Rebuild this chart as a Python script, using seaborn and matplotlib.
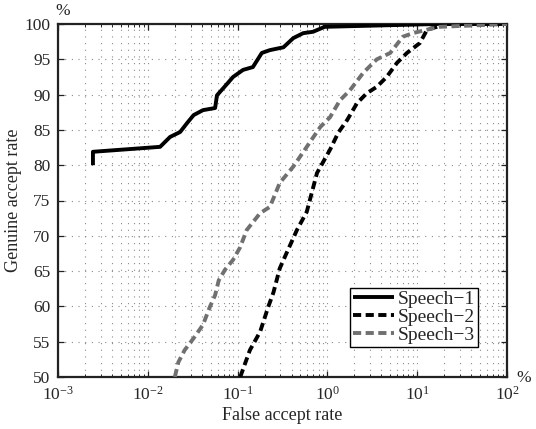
import matplotlib
matplotlib.use("Agg")
import matplotlib.pyplot as plt
import matplotlib.ticker as mticker
import numpy as np
import pandas as pd
import seaborn as sns

# ---- data ----
s1_far = [0.00245, 0.00245, 0.0137, 0.0177, 0.0229, 0.0275, 0.0324, 0.0412, 0.0562, 0.0589,
          0.0692, 0.0891, 0.115, 0.148, 0.186, 0.229, 0.324, 0.417, 0.537, 0.692, 0.933,
          1.91, 16.6, 100]
s1_gar = [80, 81.9, 82.6, 84.0, 84.7, 86.0, 87.1, 87.8, 88.1, 89.9,
          90.9, 92.5, 93.5, 93.9, 95.9, 96.3, 96.7, 98.0, 98.7, 98.9, 99.6,
          99.7, 100, 100]

s2_far = [0.107, 0.137, 0.178, 0.219, 0.251, 0.295, 0.355, 0.457, 0.589, 0.766, 1.07, 1.32,
          1.66, 2.14, 2.75, 3.55, 4.57, 5.96, 7.69, 10.7, 12.9, 16.6, 20.0, 100]
s2_gar = [50, 53.8, 56.4, 59.9, 62.0, 65.4, 67.7, 70.8, 73.4, 78.9, 82.2, 84.6,
          86.4, 88.8, 90.2, 91.1, 92.5, 94.5, 95.9, 97.3, 99.2, 99.6, 100, 100]

s3_far = [0.0200, 0.0219, 0.0257, 0.0324, 0.0412, 0.049, 0.0562, 0.0617, 0.0724, 0.0891,
          0.107, 0.126, 0.178, 0.229, 0.295, 0.417, 0.589, 0.832, 1.07, 1.38, 1.78, 2.51,
          3.55, 5.01, 6.92, 8.91, 12.9, 17.8, 100]
s3_gar = [50, 52.1, 53.8, 55.5, 57.4, 59.9, 61.6, 63.7, 65.2, 66.6,
          68.4, 70.8, 73.2, 74.1, 77.5, 79.8, 82.6, 85.4, 86.8, 89.2, 90.6, 93.1,
          95.0, 95.9, 98.2, 98.7, 99.2, 99.6, 100]

series_names = ["Speech\u22121", "Speech\u22122", "Speech\u22123"]
y_ticks = [50, 55, 60, 65, 70, 75, 80, 85, 90, 95, 100]
x_label = "False accept rate"
y_label = "Genuine accept rate"

# ---- style ----
sns.set_style("ticks")
plt.rcParams["font.family"] = ["Liberation Serif", "DejaVu Serif"]
plt.rcParams["mathtext.fontset"] = "custom"
plt.rcParams["mathtext.rm"] = "Liberation Serif"
plt.rcParams["mathtext.it"] = "Liberation Serif:italic"
plt.rcParams["mathtext.default"] = "regular"

fig = plt.figure(figsize=(5.36, 4.29), dpi=100)
ax = fig.add_axes([58 / 536, 1 - 377 / 429, 449 / 536, 353 / 429])

styles = [
    dict(color="black", dashes=None),
    dict(color="black", dashes=(2.1, 1.15)),
    dict(color="#707070", dashes=(2.1, 1.15)),
]
data = [(s1_far, s1_gar), (s2_far, s2_gar), (s3_far, s3_gar)]
for (fx, gy), name, st in zip(data, series_names, styles):
    df = pd.DataFrame({"far": fx, "gar": gy})
    sns.lineplot(data=df, x="far", y="gar", ax=ax, sort=False, estimator=None,
                 color=st["color"], linewidth=2.8, label=name, zorder=3)
    l = ax.get_lines()[-1]
    if st["dashes"] is not None:
        l.set_dashes(st["dashes"])
    l.set_solid_capstyle("butt")
    l.set_dash_capstyle("butt")

ax.set_xscale("log")
ax.set_xlim(1e-3, 1e2)
ax.set_ylim(50, 100)
ax.set_yticks(y_ticks)
ax.xaxis.set_major_locator(mticker.LogLocator(base=10, numticks=10))
ax.xaxis.set_minor_locator(mticker.LogLocator(base=10, subs=np.arange(2, 10), numticks=10))
ax.xaxis.set_minor_formatter(mticker.NullFormatter())

grid_ls = (0, (1, 5))
ax.grid(True, which="major", axis="both", linestyle=grid_ls, color="#8a8a8a", linewidth=0.8)
ax.grid(True, which="minor", axis="x", linestyle=grid_ls, color="#8a8a8a", linewidth=0.8)

ax.tick_params(which="both", direction="in", top=True, right=True, labelsize=12.5, color="#222222")
ax.tick_params(which="major", length=4.5, width=0.9)
ax.tick_params(which="minor", length=2.2, width=0.7)
ax.tick_params(axis="x", pad=6)
ax.tick_params(axis="y", pad=5.5)
for sp in ax.spines.values():
    sp.set_linewidth(1.6)
    sp.set_color("#222222")

ax.set_xlabel(x_label, fontsize=13, labelpad=3)
ax.set_ylabel(y_label, fontsize=13, labelpad=2)

fig.text(55 / 536, 1 - 11 / 429, "%", fontsize=12.5, ha="left", va="center")
fig.text(516 / 536, 1 - 378 / 429, "%", fontsize=12.5, ha="left", va="center")

leg = ax.legend(loc="lower right", bbox_to_anchor=(0.935, 0.085), fontsize=14, frameon=True,
                fancybox=False, edgecolor="black", framealpha=1, handlelength=2.1,
                handletextpad=0.2, borderpad=0.15, labelspacing=0.02, borderaxespad=0)
leg.get_frame().set_linewidth(1.0)

fig.savefig("out.png", dpi=100, facecolor="white")
